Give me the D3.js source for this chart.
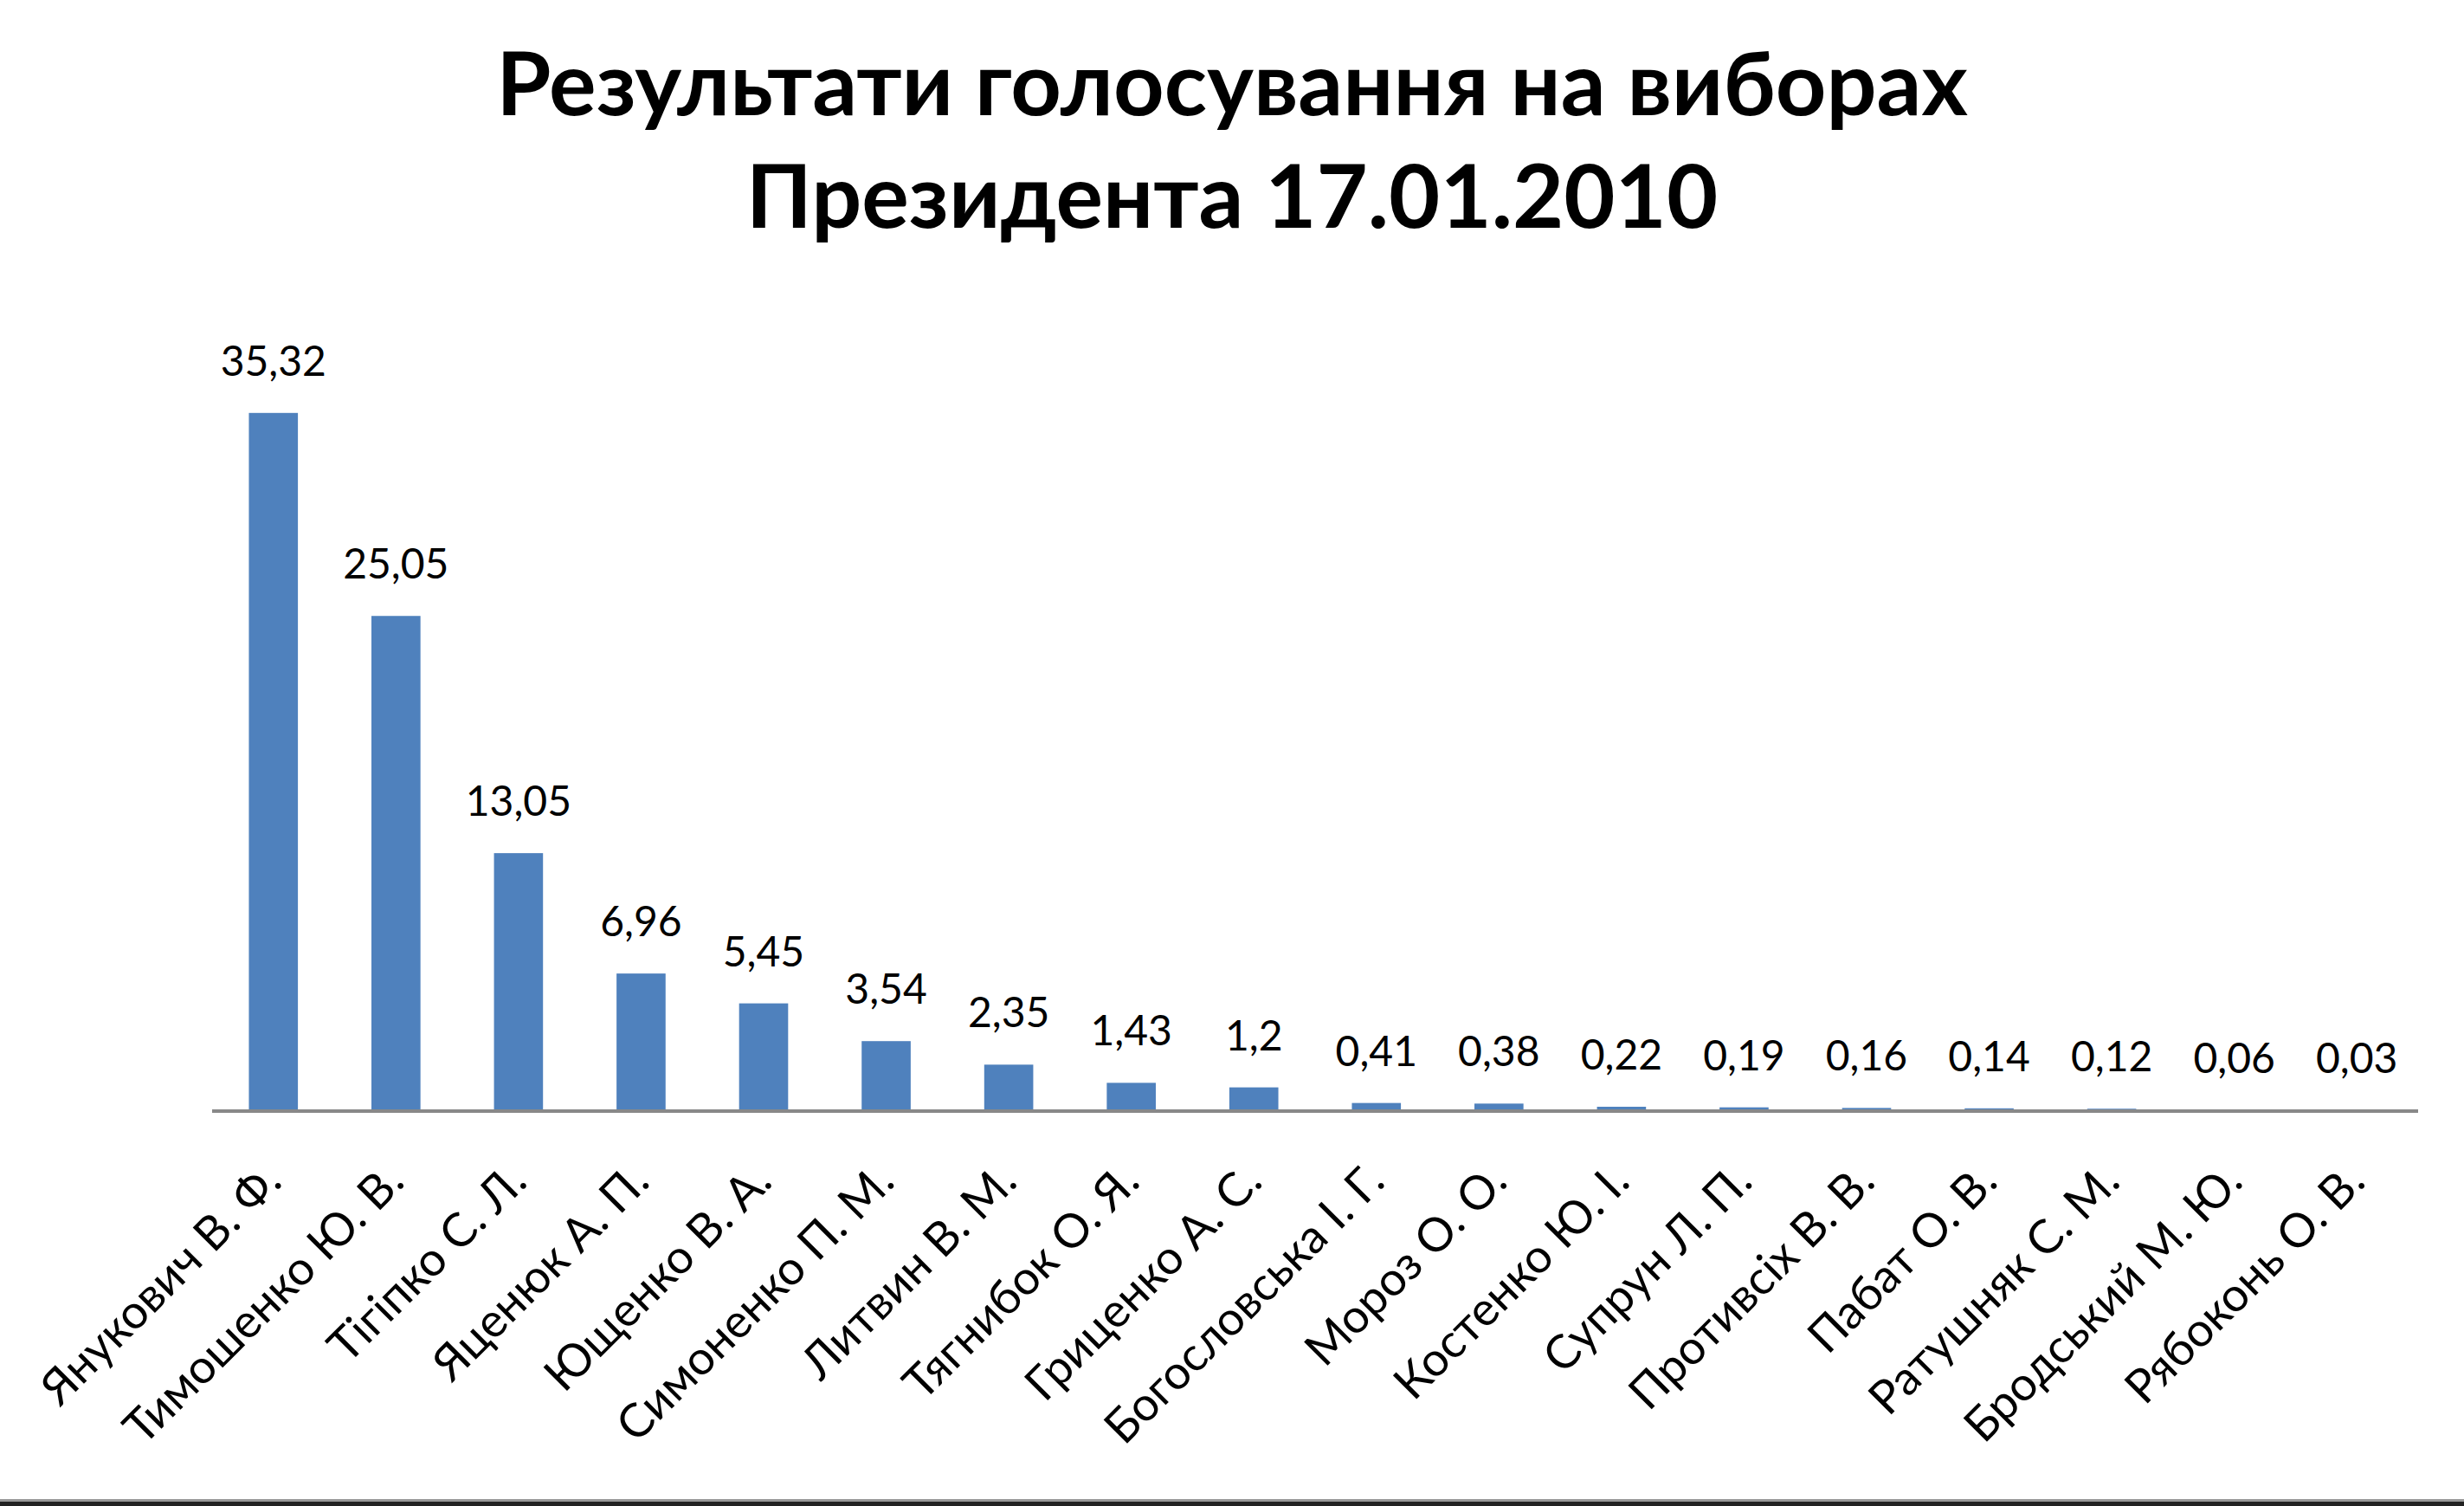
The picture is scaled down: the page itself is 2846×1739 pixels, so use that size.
<!DOCTYPE html>
<html>
<head>
<meta charset="utf-8">
<script src="https://cdn.jsdelivr.net/npm/d3@7"></script>
<style>
    html, body { margin: 0; padding: 0; background: #fff; }
    svg { display: block; }
</style>
</head>
<body>
<div id="chart"></div>
<script>
var titleLines = ["Результати голосування на виборах", "Президента 17.01.2010"];

var candidates = [
    "Янукович В. Ф.", "Тимошенко Ю. В.", "Тігіпко С. Л.", "Яценюк А. П.",
    "Ющенко В. А.", "Симоненко П. М.", "Литвин В. М.", "Тягнибок О. Я.",
    "Гриценко А. С.", "Богословська І. Г.", "Мороз О. О.", "Костенко Ю. І.",
    "Супрун Л. П.", "Противсіх В. В.", "Пабат О. В.", "Ратушняк С. М.",
    "Бродський М. Ю.", "Рябоконь О. В."
];

var percents = [35.32, 25.05, 13.05, 6.96, 5.45, 3.54, 2.35, 1.43, 1.2,
    0.41, 0.38, 0.22, 0.19, 0.16, 0.14, 0.12, 0.06, 0.03];

var yMax = 40;

drawChart();

function drawChart() {
    var W = 2846, H = 1739;
    var plot = {left: 245, right: 2793, top: 370, bottom: 1283};

    var svg = d3.select("#chart").append("svg")
        .attr("width", W)
        .attr("height", H);

    svg.append("rect")
        .attr("width", W)
        .attr("height", H)
        .attr("fill", "#fff");

    var data = candidates.map(function (c, i) {
        return {name: c, value: percents[i]};
    });

    // Excel-like gap width (150%)
    var x = d3.scaleBand()
        .domain(candidates)
        .range([plot.left, plot.right])
        .paddingInner(0.6)
        .paddingOuter(0.3);

    var y = d3.scaleLinear()
        .domain([0, yMax])
        .range([plot.bottom, plot.top]);

    // Title, fitted to the width of the original
    var title = svg.append("text")
        .attr("text-anchor", "middle")
        .style("font-family", "Lato, 'Open Sans', sans-serif")
        .style("font-weight", "bold")
        .style("font-size", "100px")
        .attr("fill", "#000");

    title.selectAll("tspan")
        .data(titleLines)
        .enter().append("tspan")
        .attr("x", W / 2)
        .attr("y", function (d, i) { return 133 + i * 130; })
        .text(function (d) { return d; });

    var firstLine = title.select("tspan").node().getComputedTextLength();
    title.style("font-size", (100 * 1700 / firstLine) + "px");

    // Bars
    svg.selectAll(".bar")
        .data(data)
        .enter().append("rect")
        .attr("class", "bar")
        .attr("x", function (d) { return x(d.name); })
        .attr("width", x.bandwidth())
        .attr("y", function (d) { return y(d.value); })
        .attr("height", function (d) { return y(0) - y(d.value); })
        .attr("fill", "#4F81BD");

    // Value labels
    svg.selectAll(".val")
        .data(data)
        .enter().append("text")
        .attr("class", "val")
        .attr("x", function (d) { return x(d.name) + x.bandwidth() / 2; })
        .attr("y", function (d) { return y(d.value) - 43; })
        .attr("text-anchor", "middle")
        .style("font-family", "Lato, 'Open Sans', sans-serif")
        .style("font-size", "48px")
        .attr("fill", "#000")
        .text(function (d) { return String(d.value).replace(".", ","); });

    // Category axis
    var xAxis = svg.append("g")
        .attr("transform", "translate(0," + plot.bottom + ")")
        .call(d3.axisBottom(x).tickSize(0).tickPadding(0));

    xAxis.select(".domain")
        .attr("d", "M" + plot.left + ",0H" + plot.right)
        .attr("stroke", "#888")
        .attr("stroke-width", 4);

    xAxis.selectAll(".tick text")
        .attr("x", 12)
        .attr("y", 84)
        .attr("dy", 0)
        .attr("transform", "rotate(-45,12,84)")
        .style("text-anchor", "end")
        .style("font-family", "Lato, 'Open Sans', sans-serif")
        .style("font-size", "54px")
        .attr("fill", "#000");

    // Frame edge at the bottom of the picture
    svg.append("rect")
        .attr("x", 0)
        .attr("y", H - 8)
        .attr("width", W)
        .attr("height", 3)
        .attr("fill", "#999");
    svg.append("rect")
        .attr("x", 0)
        .attr("y", H - 5)
        .attr("width", W)
        .attr("height", 5)
        .attr("fill", "#222");
}
</script>
</body>
</html>
